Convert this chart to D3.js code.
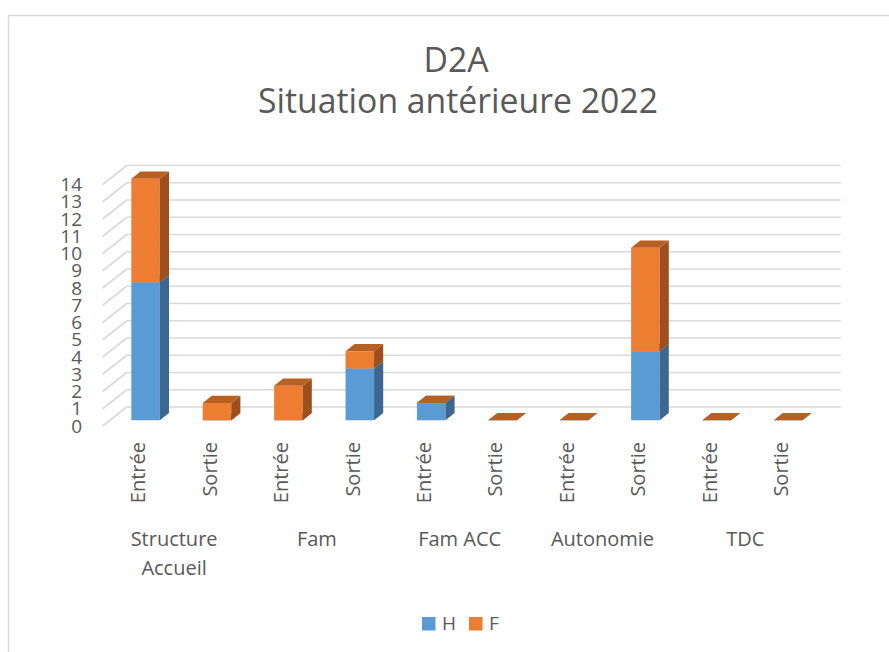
<!DOCTYPE html>
<html>
<head>
<meta charset="utf-8">
<script src="https://cdn.jsdelivr.net/npm/d3@7"></script>
<style>
  body { margin: 0; background: #fff; }
  text { font-family: "Open Sans", sans-serif; fill: #595959; }
</style>
</head>
<body>
<div id="chart"></div>
<script>
// Data
const groups = ["Structure Accueil", "Fam", "Fam ACC", "Autonomie", "TDC"];
const subLabels = ["Entrée", "Sortie"];
const seriesNames = ["H", "F"];
const valuesH = [8, 0, 0, 3, 1, 0, 0, 4, 0, 0];
const valuesF = [6, 1, 2, 1, 0, 0, 0, 6, 0, 0];
const yTicks = d3.range(0, 15);

const width = 889, height = 652;

const svg = d3.select("#chart")
    .append("svg")
    .attr("width", width)
    .attr("height", height);

// chart border
svg.append("rect")
    .attr("x", 8.5).attr("y", 15.5)
    .attr("width", 900).attr("height", 700)
    .attr("fill", "none")
    .attr("stroke", "#d9d9d9")
    .attr("stroke-width", 1.5);

// 3D projection: depth offsets
const depthX = 24, depthY = -19;
const frontLeft = 102.7, frontRight = 816.7;

const y = d3.scaleLinear().domain([0, 14]).range([426, 426 - 14 * 17.25]);

const idx = d3.range(valuesH.length);
const x = d3.scaleBand()
    .domain(idx)
    .range([frontLeft, frontRight])
    .paddingInner(0.6)
    .paddingOuter(0.3);

const proj = (px, v, z) => [px + z * depthX, y(v) + z * depthY];

// gridlines: back wall and left wall
const grid = svg.append("g");
grid.selectAll("line.back")
    .data(yTicks)
    .join("line")
    .attr("class", "back")
    .attr("x1", frontLeft + depthX).attr("x2", frontRight + depthX)
    .attr("y1", d => y(d) + depthY).attr("y2", d => y(d) + depthY)
    .attr("stroke", "#d9d9d9").attr("stroke-width", 1.6);
grid.selectAll("line.side")
    .data(yTicks)
    .join("line")
    .attr("class", "side")
    .attr("x1", frontLeft).attr("y1", d => y(d))
    .attr("x2", frontLeft + depthX).attr("y2", d => y(d) + depthY)
    .attr("stroke", "#d9d9d9").attr("stroke-width", 1.6);

// y labels
svg.append("g").selectAll("text")
    .data(yTicks)
    .join("text")
    .attr("x", 82)
    .attr("y", d => y(d))
    .attr("dy", "0.35em")
    .attr("text-anchor", "end")
    .style("font-size", "19px")
    .text(d => d);

// bars
const colors = {
    H: { front: "#5b9bd5", side: "#3b6790", top: "#4a80b3" },
    F: { front: "#ed7d31", side: "#9e4f1c", top: "#b85f22" }
};
const zf = 0.3, zb = 0.68;
const w = x.bandwidth();

function prism(g, x0, v0, v1, c) {
    const pts = arr => arr.map(p => proj(...p).join(",")).join(" ");
    g.append("polygon")
        .attr("points", pts([[x0, v0, zf], [x0 + w, v0, zf], [x0 + w, v1, zf], [x0, v1, zf]]))
        .attr("fill", c.front);
    g.append("polygon")
        .attr("points", pts([[x0 + w, v0, zf], [x0 + w, v0, zb], [x0 + w, v1, zb], [x0 + w, v1, zf]]))
        .attr("fill", c.side);
    g.append("polygon")
        .attr("points", pts([[x0, v1, zf], [x0 + w, v1, zf], [x0 + w, v1, zb], [x0, v1, zb]]))
        .attr("fill", c.top);
}

const bars = svg.append("g");
idx.forEach(i => {
    const g = bars.append("g");
    const h = valuesH[i], f = valuesF[i];
    prism(g, x(i), 0, h, colors.H);
    prism(g, x(i), h, h + f, colors.F);
});

// category labels (rotated)
svg.append("g").selectAll("text")
    .data(idx)
    .join("text")
    .attr("transform", i => `translate(${x(i) + w / 2 + 7},442) rotate(-90)`)
    .attr("text-anchor", "end")
    .style("font-size", "20px")
    .text(i => subLabels[i % 2]);

// group labels
const groupG = svg.append("g");
groups.forEach((name, gi) => {
    const cx = (x(gi * 2) + x(gi * 2 + 1) + w) / 2;
    const words = name === "Structure Accueil" ? ["Structure", "Accueil"] : [name];
    const t = groupG.append("text")
        .attr("x", cx)
        .attr("y", 546)
        .attr("text-anchor", "middle")
        .style("font-size", "20px");
    words.forEach((wd, k) => {
        t.append("tspan").attr("x", cx).attr("dy", k === 0 ? 0 : 29).text(wd);
    });
});

// title
const t1 = svg.append("text")
    .attr("x", 456).attr("y", 72)
    .attr("text-anchor", "middle")
    .style("font-size", "32px")
    .text("D2A");
const t2 = svg.append("text")
    .attr("x", 458).attr("y", 113)
    .attr("text-anchor", "middle")
    .style("font-size", "32px")
    .text("Situation antérieure 2022");
const fit = 32 * 400 / t2.node().getComputedTextLength();
t1.style("font-size", fit + "px");
t2.style("font-size", fit + "px");

// legend
const legend = svg.append("g");
const legendX = [422, 469];
seriesNames.forEach((s, k) => {
    legend.append("rect")
        .attr("x", legendX[k]).attr("y", 617)
        .attr("width", 13.5).attr("height", 13.5)
        .attr("fill", colors[s].front);
    legend.append("text")
        .attr("x", legendX[k] + 20).attr("y", 630)
        .style("font-size", "19px")
        .text(s);
});
</script>
</body>
</html>
